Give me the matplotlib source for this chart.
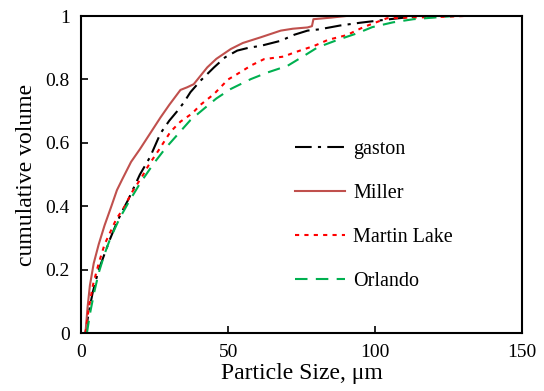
import matplotlib
matplotlib.use("Agg")
import matplotlib.pyplot as plt

plt.rcParams["font.family"] = ["Liberation Serif", "DejaVu Serif"]

# data
gaston_x = [1.5, 2.5, 4, 6, 8, 10, 12, 14, 16, 18, 20, 23.5, 27, 30, 32.7, 35, 37.2,
            40.6, 45.2, 49, 53.1, 57, 61.1, 67.9, 72.5, 77, 81, 88, 95, 105, 115]
gaston_y = [0, 0.06, 0.13, 0.2, 0.25, 0.3, 0.345, 0.385, 0.42, 0.46, 0.5, 0.556, 0.63,
            0.67, 0.70, 0.728, 0.76, 0.796, 0.838, 0.87, 0.891, 0.90, 0.906, 0.922,
            0.941, 0.954, 0.958, 0.97, 0.979, 0.99, 1.0]

miller_x = [1.5, 2.2, 3, 4.3, 6, 8, 10.3, 12.2, 14, 17, 20, 23.5, 27, 30, 33.8, 36, 38.3,
            42.9, 46, 50.9, 55, 61.1, 67.9, 72, 77, 78.5, 79, 85, 90]
miller_y = [0, 0.08, 0.15, 0.22, 0.28, 0.34, 0.4, 0.451, 0.485, 0.54, 0.58, 0.63, 0.68,
            0.72, 0.767, 0.775, 0.785, 0.838, 0.865, 0.896, 0.915, 0.933, 0.954, 0.96,
            0.964, 0.968, 0.99, 0.995, 1.0]

martin_x = [1.5, 2.5, 4, 6, 8, 10, 12, 14.9, 17, 20.7, 23, 26.4, 30.4, 33.8, 37.8, 40.6,
            45.2, 50, 53.1, 58, 62.2, 68.8, 72.5, 79.3, 84, 90.4, 96, 104, 112, 125, 130]
martin_y = [0, 0.07, 0.15, 0.22, 0.28, 0.32, 0.36, 0.4, 0.44, 0.493, 0.53, 0.577, 0.635,
            0.667, 0.693, 0.72, 0.754, 0.80, 0.817, 0.845, 0.864, 0.872, 0.885, 0.906,
            0.925, 0.94, 0.965, 0.993, 0.995, 0.998, 1.0]

orlando_x = [2, 3, 4.5, 6, 8, 10, 13, 16, 20.1, 24.7, 28.7, 32.7, 37.2, 41.7, 46, 50.9,
             57.7, 63.4, 70.2, 75.9, 80.4, 87, 94, 99, 106, 113, 126.5]
orlando_y = [0, 0.06, 0.13, 0.19, 0.25, 0.3, 0.36, 0.41, 0.473, 0.535, 0.583, 0.625,
             0.672, 0.707, 0.74, 0.77, 0.801, 0.822, 0.843, 0.875, 0.901, 0.924, 0.946,
             0.965, 0.98, 0.99, 1.0]

x_ticks = [0, 50, 100, 150]
y_ticks = [0, 0.2, 0.4, 0.6, 0.8, 1.0]
y_labels = ["0", "0.2", "0.4", "0.6", "0.8", "1"]

fig = plt.figure(figsize=(5.44, 3.91), dpi=100)
ax = fig.add_axes([0.149, 0.148, 0.811, 0.811])

ax.plot(gaston_x, gaston_y, color="black", lw=1.5, linestyle=(0, (8, 3, 1.5, 3)), label="gaston")
ax.plot(miller_x, miller_y, color="#C0504D", lw=1.5, label="Miller")
ax.plot(martin_x, martin_y, color="#FF0000", lw=1.5, linestyle=(0, (2, 2.5)), label="Martin Lake")
ax.plot(orlando_x, orlando_y, color="#00B050", lw=1.5, linestyle=(0, (6, 4)), label="Orlando")

ax.set_xlim(0, 150)
ax.set_ylim(0, 1)
ax.set_xticks(x_ticks)
ax.set_yticks(y_ticks)
ax.set_yticklabels(y_labels)
ax.tick_params(direction="in", length=5, width=1.2, labelsize=14, pad=8)
for s in ax.spines.values():
    s.set_linewidth(1.5)

ax.set_xlabel("Particle Size, μm", fontsize=17, labelpad=1)
ax.set_ylabel("cumulative volume", fontsize=17, labelpad=6)

ax.legend(loc="center left", bbox_to_anchor=(0.485, 0.37), frameon=False,
          fontsize=14.5, handlelength=2.5, handletextpad=0.4, labelspacing=1.24,
          borderpad=0, borderaxespad=0)

fig.savefig("out.png", dpi=100)
